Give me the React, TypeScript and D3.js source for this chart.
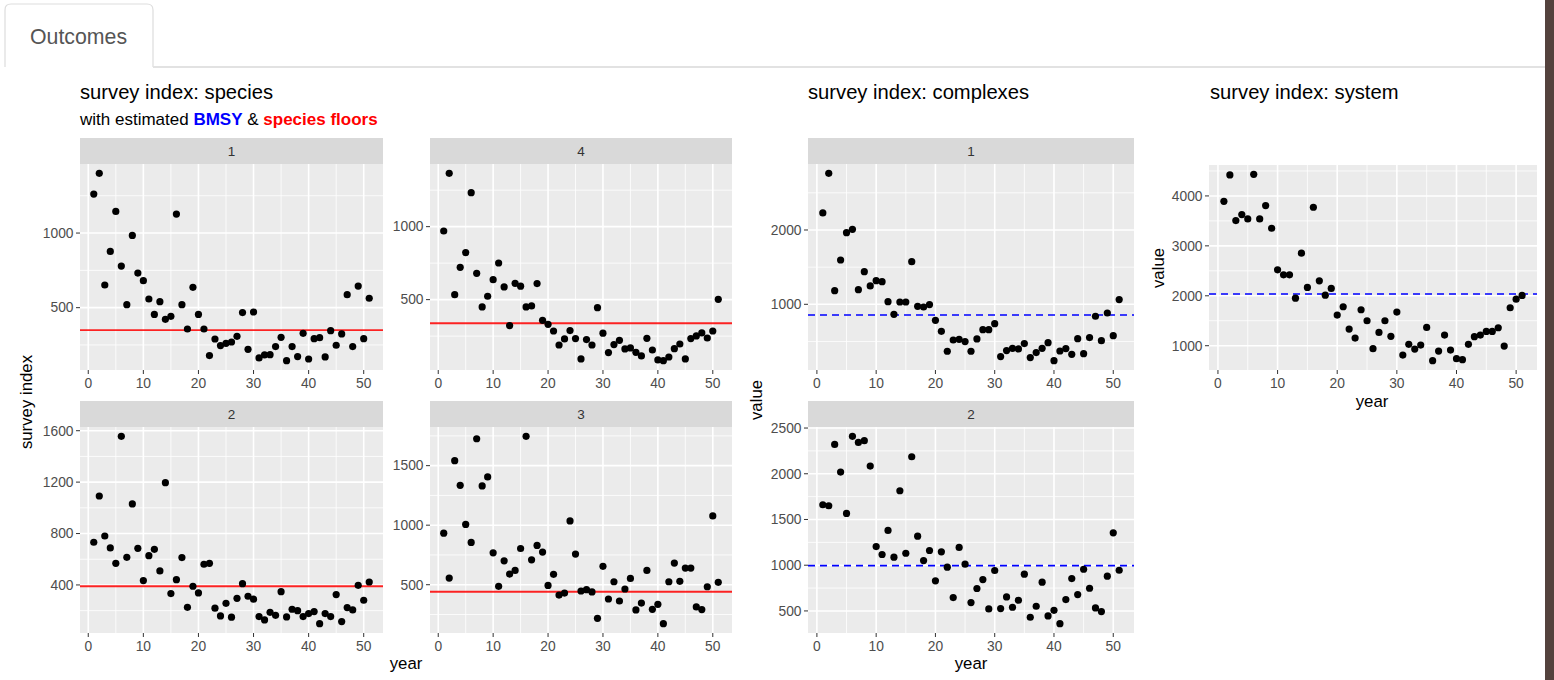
import React from 'react';
import * as d3 from 'd3';

const FONT = '"Liberation Sans", Arial, Helvetica, sans-serif';

// years 1..51 on the x axis
const years = d3.range(1, 52);

// survey index: species (facets 1, 4, 2, 3)
const species1 = [1261, 1400, 652, 877, 1145, 779, 520, 984, 732, 681, 558, 455, 540, 422, 442, 1127, 520, 357, 636, 455, 357, 179, 290, 246, 261, 270, 308, 467, 221, 471, 163, 183, 185, 239, 301, 145, 239, 172, 328, 156, 292, 299, 170, 346, 248, 324, 587, 239, 645, 292, 563];
const species4 = [970, 1365, 534, 721, 822, 1233, 680, 450, 523, 637, 751, 587, 322, 612, 592, 450, 457, 610, 358, 331, 285, 189, 231, 288, 233, 94, 226, 189, 445, 270, 137, 192, 221, 162, 169, 139, 114, 235, 155, 87, 82, 107, 164, 196, 94, 233, 251, 272, 237, 285, 502];
const species2 = [732, 1092, 781, 688, 568, 1556, 615, 1030, 685, 434, 628, 677, 509, 1196, 333, 441, 613, 226, 390, 338, 561, 568, 219, 159, 257, 149, 296, 410, 312, 289, 154, 128, 187, 164, 348, 151, 211, 200, 154, 177, 193, 99, 177, 154, 325, 115, 224, 206, 397, 281, 423];
const species3 = [933, 556, 1542, 1335, 1006, 855, 1726, 1330, 1405, 768, 486, 701, 589, 620, 804, 1746, 709, 830, 774, 494, 587, 413, 430, 1036, 757, 447, 458, 439, 218, 654, 380, 525, 363, 464, 553, 288, 346, 620, 293, 335, 173, 525, 682, 528, 640, 640, 313, 291, 483, 1078, 520];
const speciesFloors = [350, 338, 390, 441];

// survey index: complexes (facets 1, 2)
const complex1 = [2229, 2762, 1184, 1596, 1964, 2009, 1197, 1439, 1247, 1318, 1305, 1036, 865, 1031, 1031, 1574, 973, 964, 996, 785, 637, 368, 520, 529, 498, 368, 534, 659, 659, 740, 296, 377, 408, 399, 471, 283, 350, 408, 484, 242, 372, 404, 327, 538, 336, 552, 839, 511, 883, 578, 1063];
const complex2 = [1661, 1650, 2321, 2018, 1566, 2409, 2343, 2362, 2084, 1204, 1117, 1380, 1088, 1814, 1131, 2186, 1318, 1051, 1161, 829, 1146, 978, 646, 1194, 1011, 591, 745, 843, 522, 942, 526, 653, 540, 617, 902, 431, 551, 814, 445, 507, 361, 624, 854, 679, 956, 748, 533, 493, 880, 1354, 945];
const complexBmsy = [857, 995];

// survey index: system
const system = [3893, 4420, 3507, 3627, 3540, 4433, 3540, 3807, 3353, 2520, 2420, 2420, 1953, 2853, 2167, 3773, 2300, 2013, 2147, 1613, 1780, 1333, 1153, 1720, 1500, 940, 1267, 1500, 1187, 1673, 813, 1027, 933, 1013, 1367, 700, 893, 1213, 913, 740, 720, 1027, 1180, 1213, 1287, 1287, 1360, 993, 1760, 1933, 2007];
const systemBmsy = 2035;

// tick labels
const xBreaks = [0, 10, 20, 30, 40, 50];
const breaksSp1 = [500, 1000];
const breaksSp4 = [500, 1000];
const breaksSp2 = [400, 800, 1200, 1600];
const breaksSp3 = [500, 1000, 1500];
const breaksCx1 = [1000, 2000];
const breaksCx2 = [500, 1000, 1500, 2000, 2500];
const breaksSys = [1000, 2000, 3000, 4000];

type PanelProps = {
  left: number;
  right: number;
  top: number;
  bottom: number;
  strip?: string;
  values: number[];
  yBreaks: number[];
  refLine: number;
  refColor: string;
  dashed?: boolean;
};

function minorOf(breaks: number[], lo: number, hi: number) {
  const step = breaks[1] - breaks[0];
  const out: number[] = [];
  for (let v = breaks[0] - step / 2; v <= breaks[breaks.length - 1] + step; v += step) {
    if (v >= lo && v <= hi) out.push(v);
  }
  return out;
}

function Panel({ left, right, top, bottom, strip, values, yBreaks, refLine, refColor, dashed }: PanelProps) {
  const x = d3.scaleLinear().domain([-1.5, 53.5]).range([left, right]);
  const [lo, hi] = d3.extent([...values, refLine]) as [number, number];
  const pad = (hi - lo) * 0.05;
  const y = d3.scaleLinear().domain([lo - pad, hi + pad]).range([bottom, top]);
  const [d0, d1] = y.domain();
  const yMaj = yBreaks.filter((v) => v >= d0 && v <= d1);
  const yMin = minorOf(yBreaks, d0, d1);
  const xMin = minorOf(xBreaks, -1.5, 53.5);

  return (
    <g>
      {strip && (
        <g>
          <rect x={left} y={top - 26} width={right - left} height={26} fill="#D9D9D9" />
          <text x={(left + right) / 2} y={top - 8.5} textAnchor="middle" fontSize={13.5} fill="#333" fontFamily={FONT}>
            {strip}
          </text>
        </g>
      )}
      <rect x={left} y={top} width={right - left} height={bottom - top} fill="#EBEBEB" />
      {yMin.map((v) => (
        <line key={'ym' + v} x1={left} x2={right} y1={y(v)} y2={y(v)} stroke="#fff" strokeWidth={0.8} />
      ))}
      {xMin.map((v) => (
        <line key={'xm' + v} x1={x(v)} x2={x(v)} y1={top} y2={bottom} stroke="#fff" strokeWidth={0.8} />
      ))}
      {yMaj.map((v) => (
        <line key={'yM' + v} x1={left} x2={right} y1={y(v)} y2={y(v)} stroke="#fff" strokeWidth={1.6} />
      ))}
      {xBreaks.map((v) => (
        <line key={'xM' + v} x1={x(v)} x2={x(v)} y1={top} y2={bottom} stroke="#fff" strokeWidth={1.6} />
      ))}
      <line
        x1={left}
        x2={right}
        y1={y(refLine)}
        y2={y(refLine)}
        stroke={refColor}
        strokeWidth={dashed ? 1.6 : 1.8}
        strokeDasharray={dashed ? '7,5' : undefined}
        opacity={dashed ? 1 : 0.85}
      />
      {values.map((v, i) => (
        <circle key={i} cx={x(years[i])} cy={y(v)} r={3.6} fill="#000" />
      ))}
      {/* y axis */}
      {yMaj.map((v) => (
        <g key={'yt' + v}>
          <line x1={left - 4} x2={left} y1={y(v)} y2={y(v)} stroke="#333" strokeWidth={1} />
          <text x={left - 6.5} y={y(v) + 4.8} textAnchor="end" fontSize={13.8} fill="#4D4D4D" fontFamily={FONT}>
            {v}
          </text>
        </g>
      ))}
      {/* x axis */}
      {xBreaks.map((v) => (
        <g key={'xt' + v}>
          <line x1={x(v)} x2={x(v)} y1={bottom} y2={bottom + 4} stroke="#333" strokeWidth={1} />
          <text x={x(v)} y={bottom + 18} textAnchor="middle" fontSize={13.8} fill="#4D4D4D" fontFamily={FONT}>
            {v}
          </text>
        </g>
      ))}
    </g>
  );
}

export default function App() {
  const W = 1554;
  const H = 680;
  return (
    <svg width={W} height={H} style={{ position: 'absolute', left: 0, top: 0, background: '#fff' }} fontFamily={FONT}>
      {/* tab */}
      <path d="M5,67 L5,10 Q5,4 11,4 L147,4 Q153,4 153,10 L153,67" fill="#fff" stroke="#ddd" strokeWidth={1.2} />
      <line x1={153} x2={1545} y1={67} y2={67} stroke="#e2e2e2" strokeWidth={2} />
      <text x={30} y={44} fontSize={21.3} fill="#555">Outcomes</text>
      <rect x={1545} y={0} width={9} height={H} fill="#54423D" />

      {/* species */}
      <text x={80} y={99} fontSize={20.2} fill="#000">survey index: species</text>
      <text x={80} y={125} fontSize={17} fill="#000">
        with estimated <tspan fill="#0000FF" fontWeight="bold">BMSY</tspan> &amp;{' '}
        <tspan fill="#FF0000" fontWeight="bold">species floors</tspan>
      </text>
      <Panel left={80} right={383} top={164} bottom={370} strip="1" values={species1} yBreaks={breaksSp1} refLine={speciesFloors[0]} refColor="#FF0000" />
      <Panel left={430} right={732} top={164} bottom={370} strip="4" values={species4} yBreaks={breaksSp4} refLine={speciesFloors[1]} refColor="#FF0000" />
      <Panel left={80} right={383} top={427} bottom={633} strip="2" values={species2} yBreaks={breaksSp2} refLine={speciesFloors[2]} refColor="#FF0000" />
      <Panel left={430} right={732} top={427} bottom={633} strip="3" values={species3} yBreaks={breaksSp3} refLine={speciesFloors[3]} refColor="#FF0000" />
      <text x={406} y={669} textAnchor="middle" fontSize={16.8} fill="#000">year</text>
      <text transform="translate(32,402) rotate(-90)" textAnchor="middle" fontSize={16.8} fill="#000">survey index</text>

      {/* complexes */}
      <text x={808} y={99} fontSize={20.2} fill="#000">survey index: complexes</text>
      <Panel left={808} right={1134} top={164} bottom={370} strip="1" values={complex1} yBreaks={breaksCx1} refLine={complexBmsy[0]} refColor="#0000FF" dashed />
      <Panel left={808} right={1134} top={427} bottom={633} strip="2" values={complex2} yBreaks={breaksCx2} refLine={complexBmsy[1]} refColor="#0000FF" dashed />
      <text x={971} y={669} textAnchor="middle" fontSize={16.8} fill="#000">year</text>
      <text transform="translate(762,400) rotate(-90)" textAnchor="middle" fontSize={16.8} fill="#000">value</text>

      {/* system */}
      <text x={1210} y={99} fontSize={20.2} fill="#000">survey index: system</text>
      <Panel left={1209} right={1537} top={165} bottom={370} values={system} yBreaks={breaksSys} refLine={systemBmsy} refColor="#0000FF" dashed />
      <text x={1372} y={407} textAnchor="middle" fontSize={16.8} fill="#000">year</text>
      <text transform="translate(1164,268) rotate(-90)" textAnchor="middle" fontSize={16.8} fill="#000">value</text>
    </svg>
  );
}
